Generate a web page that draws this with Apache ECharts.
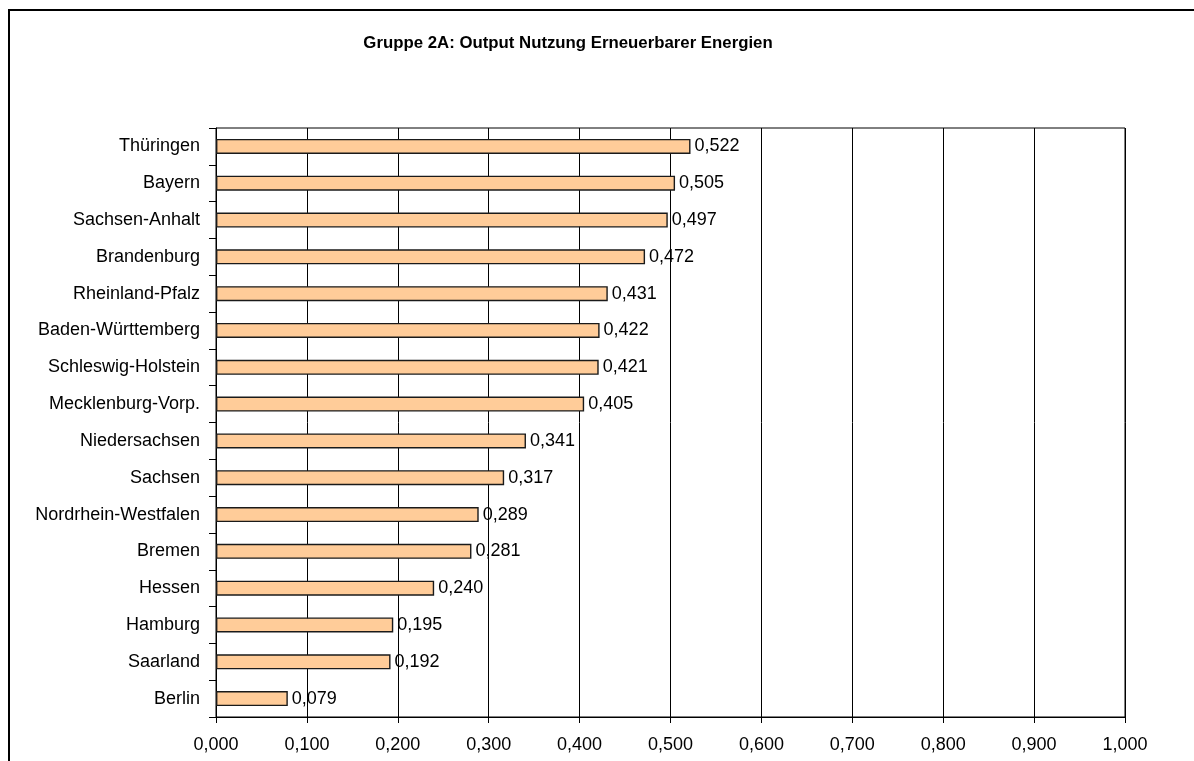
<!DOCTYPE html>
<html>
<head>
<meta charset="utf-8">
<script src="https://cdn.jsdelivr.net/npm/echarts@6/dist/echarts.min.js"></script>
<style>
html,body{margin:0;padding:0;background:#fff;}
#c{width:1194px;height:761px;}
</style>
</head>
<body>
<div id="c"></div>
<script>
const titleText = 'Gruppe 2A: Output Nutzung Erneuerbarer Energien';
const categories = ['Thüringen','Bayern','Sachsen-Anhalt','Brandenburg','Rheinland-Pfalz','Baden-Württemberg','Schleswig-Holstein','Mecklenburg-Vorp.','Niedersachsen','Sachsen','Nordrhein-Westfalen','Bremen','Hessen','Hamburg','Saarland','Berlin'];
const values = [0.522,0.505,0.497,0.472,0.431,0.422,0.421,0.405,0.341,0.317,0.289,0.281,0.240,0.195,0.192,0.079];
const xMin = 0, xMax = 1, xStep = 0.1;

const fmt = v => Number(v).toFixed(3).replace('.', ',');
const FONT = '"Liberation Sans", Arial, sans-serif';

const chart = echarts.init(document.getElementById('c'), null, {renderer:'canvas'});
chart.setOption({
  backgroundColor:'#fff',
  animation:false,
  textStyle:{fontFamily:FONT},
  title:{
    text:titleText,
    left:563, top:30, textAlign:'center',
    textStyle:{fontFamily:FONT, fontSize:16.8, fontWeight:'bold', color:'#000'}
  },
  graphic:[{
    type:'rect', silent:true, z:-1,
    shape:{x:9,y:10,width:1300,height:900},
    style:{fill:'none', stroke:'#000', lineWidth:2}
  }],
  grid:{left:216, right:69, top:128, bottom:44, show:true, borderColor:'#000', borderWidth:1, backgroundColor:'transparent'},
  xAxis:{
    type:'value', min:xMin, max:xMax, interval:xStep,
    axisLine:{show:true, lineStyle:{color:'#000', width:1}},
    axisTick:{show:true, length:6, lineStyle:{color:'#000'}},
    splitLine:{show:true, lineStyle:{color:'#000', width:1}},
    axisLabel:{formatter:fmt, fontFamily:FONT, fontSize:18, color:'#000', margin:19}
  },
  yAxis:{
    type:'category', data:categories, inverse:true,
    axisLine:{show:true, lineStyle:{color:'#000', width:1}},
    axisTick:{show:true, length:7, alignWithLabel:false, lineStyle:{color:'#000'}},
    splitLine:{show:false},
    axisLabel:{fontFamily:FONT, fontSize:18, color:'#000', margin:16}
  },
  series:[{
    type:'bar', data:values, barWidth:15,
    itemStyle:{color:'#FFCC99', borderColor:'#1a1a1a', borderWidth:1.4},
    label:{show:true, position:'right', distance:4, formatter:p=>fmt(p.value), fontFamily:FONT, fontSize:18, color:'#000'}
  }]
});
</script>
</body>
</html>
